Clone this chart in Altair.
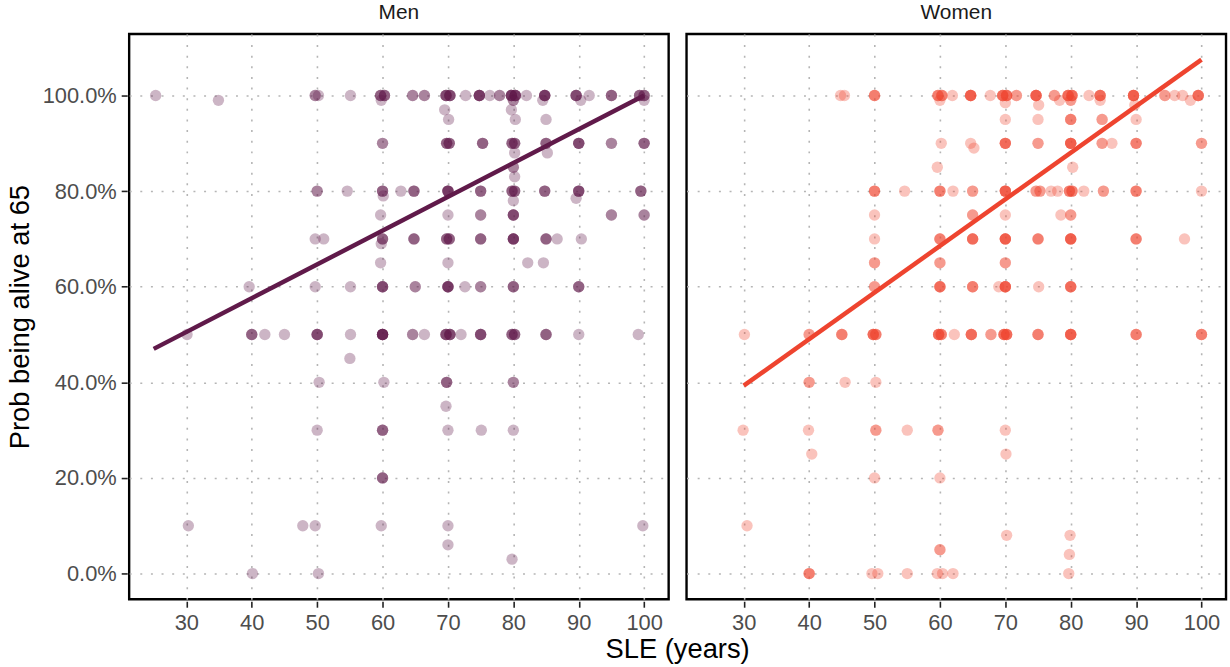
import altair as alt
import pandas as pd

# ---- Men: x = SLE (years), y = prob alive at 65, n = number of overlapping respondents
men_x = [25.3, 34.9, 49.7, 50.2, 55.1, 59.7, 60.3, 59.8, 64.6, 66.4, 69.7, 70.3, 72.7, 74.8, 76.4, 77.9, 79.7, 80.3, 82, 84.8, 89.6, 91.6, 95, 99.3, 100,
         69.5, 70.1, 79.7, 80.3, 85, 80, 84.5, 90.3, 100,
         60, 69.8, 70.2, 75.3, 79.8, 80.2, 80.2, 85, 85.2, 90, 95, 100,
         80, 80.2,
         50, 54.6, 60, 60.1, 62.8, 64.8, 70, 75, 79.8, 80.2, 80, 84.8, 90, 89.6, 99.5,
         59.7,
         70, 75, 80, 95, 100,
         49.7, 51, 60, 59.8, 64.8, 69.8, 70.2, 75, 80, 85, 86.7, 90.4,
         59.7, 70, 82.2, 84.6,
         39.6, 49.7, 55.1, 60, 65, 70, 72.6, 75, 80, 90,
         30.1, 40, 42, 45, 50, 55.1, 60, 64.6, 66.4, 69.7, 70.3, 72, 75, 79.8, 80.2, 85, 90, 99.1,
         55,
         50.3, 60.2, 69.8, 80,
         69.7,
         50, 60, 70, 75.1, 80,
         60,
         30.3, 47.8, 49.7, 59.8, 70, 99.8,
         70, 79.8,
         40.1, 50.2]
men_y = [1.0, 0.99, 1.0, 1.0, 1.0, 1.0, 1.0, 0.99, 1.0, 1.0, 1.0, 1.0, 1.0, 1.0, 1.0, 1.0, 1.0, 1.0, 1.0, 1.0, 1.0, 1.0, 1.0, 1.0, 1.0,
         0.97, 0.95, 0.97, 0.95, 0.95, 0.99, 0.99, 0.99, 0.99,
         0.9, 0.9, 0.9, 0.9, 0.9, 0.9, 0.88, 0.9, 0.88, 0.9, 0.9, 0.9,
         0.85, 0.83,
         0.8, 0.8, 0.8, 0.79, 0.8, 0.8, 0.8, 0.8, 0.8, 0.8, 0.78, 0.8, 0.8, 0.785, 0.8,
         0.75,
         0.75, 0.75, 0.75, 0.75, 0.75,
         0.7, 0.7, 0.7, 0.69, 0.7, 0.7, 0.7, 0.7, 0.7, 0.7, 0.7, 0.7,
         0.65, 0.65, 0.65, 0.65,
         0.6, 0.6, 0.6, 0.6, 0.6, 0.6, 0.6, 0.6, 0.6, 0.6,
         0.5, 0.5, 0.5, 0.5, 0.5, 0.5, 0.5, 0.5, 0.5, 0.5, 0.5, 0.5, 0.5, 0.5, 0.5, 0.5, 0.5, 0.5,
         0.45,
         0.4, 0.4, 0.4, 0.4,
         0.35,
         0.3, 0.3, 0.3, 0.3, 0.3,
         0.2,
         0.1, 0.1, 0.1, 0.1, 0.1, 0.1,
         0.06, 0.03,
         0.0, 0.0]
men_n = [1, 1, 2, 1, 1, 3, 3, 1, 2, 2, 4, 4, 1, 5, 1, 2, 5, 5, 1, 5, 4, 1, 3, 3, 3,
         1, 1, 1, 1, 1, 2, 1, 1, 1,
         2, 3, 3, 3, 3, 3, 1, 3, 1, 4, 2, 3,
         2, 1,
         2, 1, 3, 1, 1, 3, 5, 3, 3, 3, 1, 3, 4, 1, 3,
         1,
         1, 2, 4, 2, 2,
         1, 1, 3, 1, 3, 3, 3, 3, 5, 3, 1, 1,
         1, 1, 1, 1,
         1, 1, 1, 4, 2, 5, 1, 2, 3, 3,
         1, 3, 1, 1, 4, 1, 7, 2, 1, 4, 4, 1, 4, 3, 3, 3, 1, 1,
         1,
         1, 1, 3, 2,
         1,
         1, 3, 1, 1, 1,
         3,
         1, 1, 1, 1, 1, 1,
         1, 1,
         1, 1]

# ---- Women
women_x = [44.8, 45.4, 50, 59.7, 60.3, 60, 61.9, 64.7, 67.7, 69.6, 70.2, 70, 71.7, 74.7, 75.1, 77.5, 78.3, 79.6, 80.2, 80, 82.8, 84.5, 84.5, 89.6, 89.8, 94.4, 95.9, 97.1, 98.3, 99.5,
           70, 75, 80, 84.8, 90,
           60.2, 64.7, 65.2, 70, 75, 80, 84.8, 86.3, 90, 100,
           59.6, 80.3,
           50, 54.6, 60, 62, 65, 70, 74.7, 75.3, 77, 78, 79.8, 80.2, 82, 85, 90, 100,
           50, 65, 70, 78.5, 80,
           50, 60, 65, 70, 75, 80, 90, 97.4,
           50, 60, 70,
           50, 60, 65, 69, 70, 75.1, 80,
           30.1, 40, 45, 49.8, 50.2, 59.8, 60.2, 62.2, 64.8, 67.8, 69.8, 70.2, 75, 80, 90, 100,
           40, 45.5, 50.2,
           29.9, 39.9, 50.2, 55, 59.7, 70,
           40.4, 70.1,
           50, 60,
           30.5, 70.2, 79.9, 60, 79.8,
           40, 49.6, 50.5, 55, 59.6, 60.4, 62, 79.7]
women_y = [1.0, 1.0, 1.0, 1.0, 1.0, 0.99, 1.0, 1.0, 1.0, 1.0, 1.0, 0.985, 1.0, 1.0, 0.98, 1.0, 0.99, 1.0, 1.0, 0.99, 1.0, 1.0, 0.99, 1.0, 0.98, 1.0, 1.0, 1.0, 0.99, 1.0,
           0.95, 0.95, 0.95, 0.95, 0.95,
           0.9, 0.9, 0.89, 0.9, 0.9, 0.9, 0.9, 0.9, 0.9, 0.9,
           0.85, 0.85,
           0.8, 0.8, 0.8, 0.8, 0.8, 0.8, 0.8, 0.8, 0.8, 0.8, 0.8, 0.8, 0.8, 0.8, 0.8, 0.8,
           0.75, 0.75, 0.75, 0.75, 0.75,
           0.7, 0.7, 0.7, 0.7, 0.7, 0.7, 0.7, 0.7,
           0.65, 0.65, 0.65,
           0.6, 0.6, 0.6, 0.6, 0.6, 0.6, 0.6,
           0.5, 0.5, 0.5, 0.5, 0.5, 0.5, 0.5, 0.5, 0.5, 0.5, 0.5, 0.5, 0.5, 0.5, 0.5, 0.5,
           0.4, 0.4, 0.4,
           0.3, 0.3, 0.3, 0.3, 0.3, 0.3,
           0.25, 0.25,
           0.2, 0.2,
           0.1, 0.08, 0.08, 0.05, 0.04,
           0.0, 0.0, 0.0, 0.0, 0.0, 0.0, 0.0, 0.0]
women_n = [1, 1, 3, 3, 3, 1, 1, 5, 1, 4, 4, 1, 2, 5, 1, 2, 1, 4, 4, 2, 1, 4, 1, 5, 1, 2, 1, 1, 1, 4,
           1, 1, 3, 2, 1,
           1, 1, 1, 4, 2, 5, 2, 1, 3, 2,
           1, 1,
           3, 1, 3, 1, 2, 5, 2, 2, 1, 1, 3, 3, 1, 2, 3, 1,
           1, 2, 1, 1, 2,
           1, 3, 4, 5, 3, 5, 3, 1,
           2, 2, 2,
           2, 4, 3, 1, 5, 1, 4,
           1, 2, 3, 4, 3, 4, 3, 1, 4, 2, 4, 4, 3, 5, 3, 3,
           2, 1, 1,
           1, 1, 2, 1, 2, 1,
           1, 1,
           1, 1,
           1, 1, 1, 2, 1,
           3, 1, 1, 1, 1, 1, 1, 1]

# ---- fitted lines (end points)
fit_g = ["Men", "Men", "Women", "Women"]
fit_x = [25, 100, 30, 100]
fit_y = [0.47, 1.0, 0.393, 1.075]

x_ticks = [30, 40, 50, 60, 70, 80, 90, 100]
y_ticks = [0.0, 0.2, 0.4, 0.6, 0.8, 1.0]

rows = []
for g, xs_, ys_, ns_ in [("Men", men_x, men_y, men_n), ("Women", women_x, women_y, women_n)]:
    for x, y, n in zip(xs_, ys_, ns_):
        for _ in range(n):
            rows.append({"g": g, "x": x, "y": y, "kind": "pt"})
for g, x, y in zip(fit_g, fit_x, fit_y):
    rows.append({"g": g, "x": x, "y": y, "kind": "fit"})
df = pd.DataFrame(rows)

FONT = "Liberation Sans"
xscale = alt.Scale(domain=[21.25, 103.75], nice=False, zero=False)
yscale = alt.Scale(domain=[-0.0538, 1.1288], nice=False, zero=False)
color = alt.Color("g:N", scale=alt.Scale(domain=["Men", "Women"], range=["#601A4A", "#EE442F"]), legend=None)

xaxis = alt.Axis(values=x_ticks, title=None, grid=True)
yaxis = alt.Axis(values=y_ticks, format=".1%", title="Prob being alive at 65", grid=True, titlePadding=8)

pts = alt.Chart().mark_circle(size=130, opacity=0.32, stroke=None).encode(
    x=alt.X("x:Q", scale=xscale, axis=xaxis),
    y=alt.Y("y:Q", scale=yscale, axis=yaxis),
    color=color,
).transform_filter(alt.datum.kind == "pt")

line = alt.Chart().mark_line(strokeWidth=4.5).encode(
    x=alt.X("x:Q", scale=xscale, axis=xaxis),
    y=alt.Y("y:Q", scale=yscale, axis=yaxis),
    color=color,
).transform_filter(alt.datum.kind == "fit")

chart = alt.layer(pts, line, data=df).properties(width=543, height=569).facet(
    column=alt.Column("g:N", title="SLE (years)",
                      header=alt.Header(titleOrient="bottom", labelOrient="top",
                                        labelFontSize=21, labelFont=FONT, labelColor="#1a1a1a",
                                        labelPadding=9,
                                        titleFontSize=27.5, titleFont=FONT, titleColor="black",
                                        titleFontWeight="normal", titlePadding=-7)),
    spacing=14,
).properties(
    padding={"left": 6, "top": 0, "right": 2, "bottom": 0},
    background="white",
).configure_view(
    stroke="black", strokeWidth=2.4
).configure_axis(
    domain=False,
    tickColor="#222222", tickWidth=1.6, tickSize=6,
    labelColor="#4d4d4d", labelFontSize=22, labelFont=FONT, labelPadding=5,
    titleFontSize=27.5, titleFont=FONT, titleColor="black", titleFontWeight="normal",
    gridColor="#b5b5b5", gridDash=[2, 8.7], gridWidth=1.6,
)

chart.save("out.html", embed_options={"renderer": "svg", "actions": False})
